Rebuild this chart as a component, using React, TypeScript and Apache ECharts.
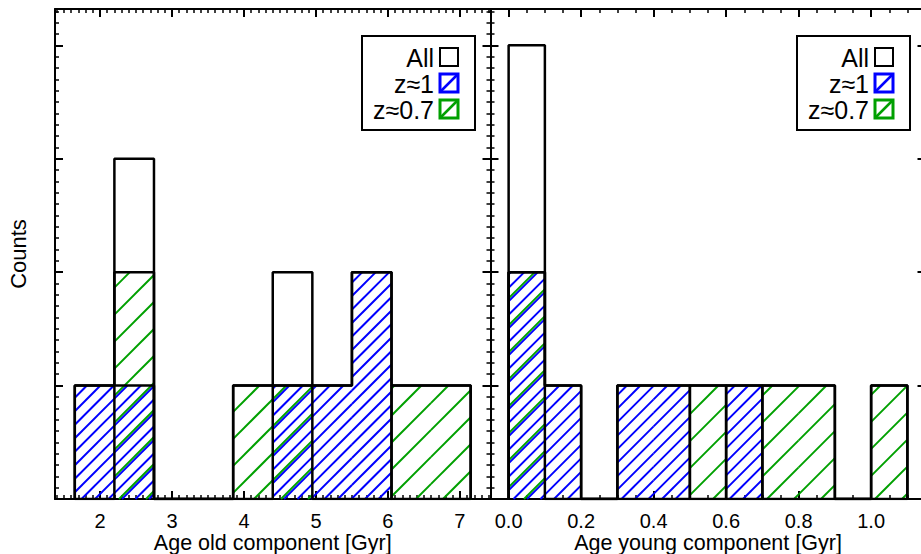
import React, { useEffect, useRef } from "react";
import * as echarts from "echarts";

// ---- data ----
const oldEdges = [1.65, 2.2, 2.75, 3.3, 3.85, 4.4, 4.95, 5.5, 6.05, 6.6, 7.15];
const oldAll = [1, 3, 0, 0, 1, 2, 1, 2, 1, 1];
const oldZ1 = [1, 1, 0, 0, 0, 1, 1, 2, 0, 0];
const oldZ07 = [0, 2, 0, 0, 1, 1, 0, 0, 1, 1];

const youngEdges = [0.0, 0.1, 0.2, 0.3, 0.4, 0.5, 0.6, 0.7, 0.8, 0.9, 1.0, 1.1];
const youngAll = [4, 1, 0, 1, 1, 1, 1, 1, 1, 0, 1];
const youngZ1 = [2, 1, 0, 1, 1, 0, 1, 0, 0, 0, 0];
const youngZ07 = [2, 0, 0, 0, 0, 1, 0, 1, 1, 0, 1];

const oldRange = [1.375, 7.425];
const youngRange = [-0.05, 1.15];
const countMax = 4.32;

const legendLabels = ["All", "z≈1", "z≈0.7"];
const xTitles = ["Age old component [Gyr]", "Age young component [Gyr]"];
const yTitle = "Counts";

const BLUE = "#0000ff";
const GREEN = "#00a000";
const FONT = "Liberation Sans, Arial, Helvetica, sans-serif";

function binItems(edges: number[], counts: number[]) {
  return counts.map((c, i) => [edges[i], edges[i + 1], c]);
}

function stepData(edges: number[], counts: number[]) {
  const pts: number[][] = [[edges[0], 0]];
  counts.forEach((c, i) => pts.push([edges[i], c]));
  pts.push([edges[edges.length - 1], 0]);
  return pts;
}

function makeHatch(color: string, spacing: number, phase: number) {
  return (params: any, api: any) => {
    const lo = api.value(0);
    const hi = api.value(1);
    const c = api.value(2);
    if (!c) return null;
    const pA = api.coord([lo, 0]);
    const pB = api.coord([hi, c]);
    const x0 = pA[0];
    const x1 = pB[0];
    const yBot = pA[1];
    const yTop = pB[1];
    const children: any[] = [];
    const kStart = Math.ceil((x0 + yTop - phase) / spacing) * spacing + phase;
    for (let k = kStart; k <= x1 + yBot; k += spacing) {
      const xa = Math.max(x0, k - yBot);
      const xb = Math.min(x1, k - yTop);
      if (xb - xa > 0.3) {
        children.push({
          type: "line",
          shape: { x1: xa, y1: k - xa, x2: xb, y2: k - xb },
          style: { stroke: color, lineWidth: 2 },
        });
      }
    }
    return { type: "group", children };
  };
}

function axisBase(extra: any) {
  return {
    type: "value",
    axisLine: { show: true, onZero: false, lineStyle: { color: "#000", width: 2 } },
    axisTick: { show: true, inside: true, length: 8, lineStyle: { color: "#000", width: 2 } },
    minorTick: { show: true, splitNumber: 10, length: 4, lineStyle: { color: "#000", width: 1.5 } },
    splitLine: { show: false },
    minorSplitLine: { show: false },
    axisLabel: { show: false },
    ...extra,
  };
}

function legendGraphics(boxRight: number) {
  const boxW = 113;
  const boxTop = 36;
  const boxH = 94;
  const left = boxRight - boxW;
  const swX = boxRight - 35;
  const sw = 18;
  const rows = [57, 83, 109];
  const colors = ["#000", BLUE, GREEN];
  const els: any[] = [
    {
      type: "rect",
      shape: { x: left, y: boxTop, width: boxW, height: boxH },
      style: { fill: "#fff", stroke: "#000", lineWidth: 2 },
      z: 100,
    },
  ];
  legendLabels.forEach((lab, i) => {
    els.push({
      type: "text",
      x: swX - 6,
      y: rows[i] + 1,
      style: {
        text: lab,
        fill: "#000",
        font: `25px ${FONT}`,
        lineHeight: 22,
        align: "right",
        verticalAlign: "middle",
      },
      z: 101,
    });
    els.push({
      type: "rect",
      shape: { x: swX, y: rows[i] - sw / 2, width: sw, height: sw },
      style: { fill: "#fff", stroke: colors[i], lineWidth: i === 0 ? 2 : 3 },
      z: 101,
    });
    if (i > 0) {
      els.push({
        type: "line",
        shape: { x1: swX, y1: rows[i] + sw / 2, x2: swX + sw, y2: rows[i] - sw / 2 },
        style: { stroke: colors[i], lineWidth: 2.5 },
        z: 102,
      });
    }
  });
  return els;
}

export default function App() {
  const ref = useRef<HTMLDivElement>(null);

  useEffect(() => {
    if (!ref.current) return;
    const chart = echarts.init(ref.current, null, { renderer: "svg" });

    const g0 = { left: 55, top: 9, width: 435.5, height: 490, outerBoundsMode: "none", containLabel: false };
    const g1 = { left: 490.5, top: 9, width: 435, height: 490, outerBoundsMode: "none", containLabel: false };

    const labelStyle = { show: true, color: "#000", fontSize: 20, lineHeight: 17, fontFamily: FONT, margin: 13 };
    const nameStyle = { color: "#000", fontSize: 21.5, fontFamily: FONT, lineHeight: 20 };

    const option: any = {
      animation: false,
      grid: [g0, g1],
      xAxis: [
        axisBase({
          gridIndex: 0,
          position: "bottom",
          min: oldRange[0],
          max: oldRange[1],
          axisLabel: { ...labelStyle, showMinLabel: false, showMaxLabel: false, formatter: (v: number) => String(v) },
          name: xTitles[0],
          nameLocation: "middle",
          nameGap: 33.5,
          nameMoveOverlap: false,
          nameTextStyle: nameStyle,
        }),
        axisBase({ gridIndex: 0, position: "top", min: oldRange[0], max: oldRange[1] }),
        axisBase({
          gridIndex: 1,
          position: "bottom",
          min: youngRange[0],
          max: youngRange[1],
          minorTick: { show: true, splitNumber: 4, length: 4, lineStyle: { color: "#000", width: 1.5 } },
          axisLabel: { ...labelStyle, showMinLabel: false, showMaxLabel: false, formatter: (v: number) => v.toFixed(1) },
          name: xTitles[1],
          nameLocation: "middle",
          nameGap: 33.5,
          nameMoveOverlap: false,
          nameTextStyle: nameStyle,
        }),
        axisBase({
          gridIndex: 1,
          position: "top",
          min: youngRange[0],
          max: youngRange[1],
          minorTick: { show: true, splitNumber: 4, length: 4, lineStyle: { color: "#000", width: 1.5 } },
        }),
      ],
      yAxis: [
        axisBase({
          gridIndex: 0,
          position: "left",
          min: 0,
          max: countMax,
          interval: 1,
          name: yTitle,
          nameLocation: "middle",
          nameGap: 26,
          nameMoveOverlap: false,
          nameTextStyle: { color: "#000", fontSize: 22, fontFamily: FONT },
        }),
        axisBase({ gridIndex: 0, position: "right", min: 0, max: countMax, interval: 1 }),
        axisBase({ gridIndex: 1, position: "left", min: 0, max: countMax, interval: 1 }),
        axisBase({ gridIndex: 1, position: "right", min: 0, max: countMax, interval: 1 }),
      ],
      series: [],
      graphic: [...legendGraphics(475), ...legendGraphics(910)],
    };

    const panels = [
      { x: 0, y: 0, edges: oldEdges, all: oldAll, z1: oldZ1, z07: oldZ07 },
      { x: 2, y: 2, edges: youngEdges, all: youngAll, z1: youngZ1, z07: youngZ07 },
    ];
    panels.forEach((p) => {
      option.series.push({
        type: "custom",
        xAxisIndex: p.x,
        yAxisIndex: p.y,
        dimensions: ["lo", "hi", "count"],
        encode: { x: [0, 1], y: 2 },
        data: binItems(p.edges, p.z1),
        renderItem: makeHatch(BLUE, 13.5, 0),
        silent: true,
        z: 2,
      });
      option.series.push({
        type: "custom",
        xAxisIndex: p.x,
        yAxisIndex: p.y,
        dimensions: ["lo", "hi", "count"],
        encode: { x: [0, 1], y: 2 },
        data: binItems(p.edges, p.z07),
        renderItem: makeHatch(GREEN, 27, 24),
        silent: true,
        z: 3,
      });
      [p.all, p.z1, p.z07].forEach((counts) => {
        option.series.push({
          type: "line",
          xAxisIndex: p.x,
          yAxisIndex: p.y,
          step: "end",
          data: stepData(p.edges, counts),
          showSymbol: false,
          symbol: "none",
          silent: true,
          lineStyle: { color: "#000", width: 2.5 },
          z: 4,
        });
      });
    });

    chart.setOption(option);
    return () => chart.dispose();
  }, []);

  return (
    <div
      ref={ref}
      style={{ position: "fixed", left: 0, top: 0, width: 921, height: 554, background: "#fff" }}
    />
  );
}
